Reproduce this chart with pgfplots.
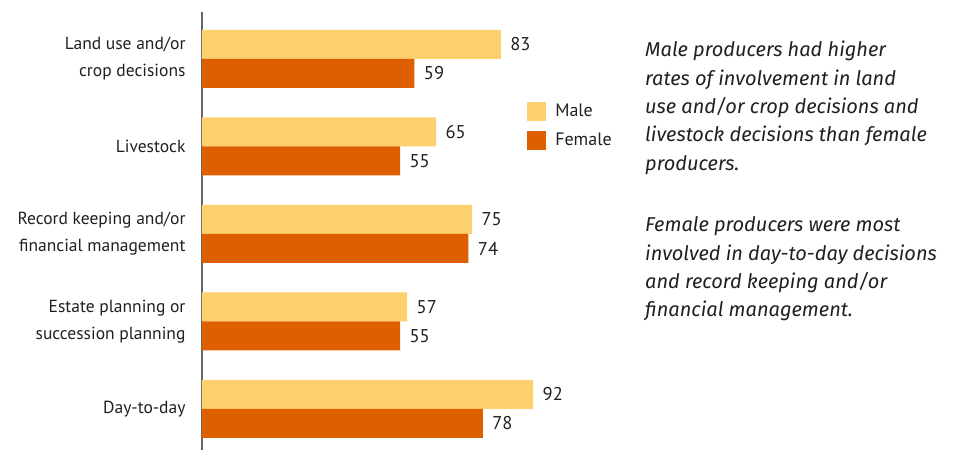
\documentclass[border=0pt]{standalone}
\usepackage{pgfplots}
\pgfplotsset{compat=1.18}
\usepackage{fontspec}
\setmainfont{PT Sans}
\newfontfamily\notefont{Fira Sans}
\definecolor{male}{HTML}{FDD06E}
\definecolor{female}{HTML}{DD5F00}
\definecolor{txt}{HTML}{231F20}

\begin{document}
\begin{tikzpicture}
\useasboundingbox (0,0) rectangle (969pt,450pt);
\begin{axis}[
    at={(202pt,0pt)}, anchor=south west,
    scale only axis, width=360pt, height=438pt,
    xbar, bar width=29pt,
    xmin=0, xmax=100,
    ymin=-0.537, ymax=4.469, y dir=reverse,
    axis x line=none,
    axis y line=left,
    y axis line style={-, draw=black!60, line width=1.2pt},
    ytick={0,1,2,3,4},
    yticklabels={{Land use and/or\\crop decisions}, Livestock,
                 {Record keeping and/or\\financial management},
                 {Estate planning or\\succession planning}, Day-to-day},
    yticklabel style={align=right, anchor=east, xshift=-13pt, text=txt,
                      font=\fontsize{17.5}{27}\selectfont},
    major tick length=0pt,
    /pgf/number format/assume math mode=true,
    nodes near coords,
    every node near coord/.append style={anchor=west, xshift=6pt, text=txt,
                      font=\fontsize{18.5}{20}\selectfont},
    legend style={at={(0.903,0.796)}, anchor=north west, draw=none, fill=none,
                  font=\fontsize{18}{20}\selectfont, text=txt, row sep=10pt,
                  column sep=7pt, inner sep=0pt},
    legend cell align=left,
]
\addplot[fill=male, draw=none, bar shift=14.5pt,
    legend image code/.code={\fill[male] (0pt,-9.5pt) rectangle (19pt,9.5pt);}]
    coordinates {(83,0) (65,1) (75,2) (57,3) (92,4)};
\addlegendentry{Male}
\addplot[fill=female, draw=none, bar shift=-14.5pt,
    legend image code/.code={\fill[female] (0pt,-9.5pt) rectangle (19pt,9.5pt);}]
    coordinates {(59,0) (55,1) (74,2) (55,3) (78,4)};
\addlegendentry{Female}
\end{axis}
\node[anchor=north west, align=left, inner sep=0pt, text=txt,
      font=\notefont\fontsize{20}{28.3}\selectfont\itshape] at (645pt,409pt)
  {Male producers had higher\\
   rates of involvement in land\\
   use and/or crop decisions and\\
   livestock decisions than female\\
   producers.\\[33.7pt]
   Female producers were most\\
   involved in day-to-day decisions\\
   and record keeping and/or\\
   financial management.};
\end{tikzpicture}
\end{document}
